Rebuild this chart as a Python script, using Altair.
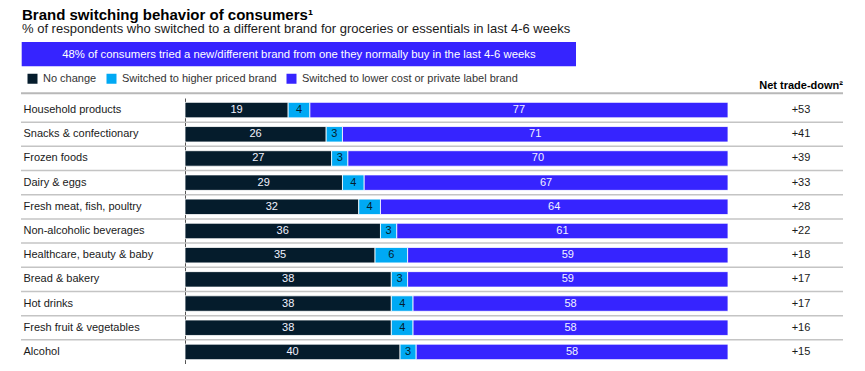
import altair as alt
import pandas as pd

FONT = "Liberation Sans, Arial, sans-serif"
NAVY = "#051C2C"
CYAN = "#00A9F4"
BLUE = "#3624FF"

title_text = "Brand switching behavior of consumers\u00b9"
subtitle_text = "% of respondents who switched to a different brand for groceries or essentials in last 4-6 weeks"
banner_text = "48% of consumers tried a new/different brand from one they normally buy in the last 4-6 weeks"
net_header = "Net trade-down\u00b2"

categories = [
    "Household products", "Snacks & confectionary", "Frozen foods", "Dairy & eggs",
    "Fresh meat, fish, poultry", "Non-alcoholic beverages", "Healthcare, beauty & baby",
    "Bread & bakery", "Hot drinks", "Fresh fruit & vegetables", "Alcohol",
]
segments = ["No change", "Switched to higher priced brand", "Switched to lower cost or private label brand"]
no_change = [19, 26, 27, 29, 32, 36, 35, 38, 38, 38, 40]
higher = [4, 3, 3, 4, 4, 3, 6, 3, 4, 4, 3]
lower = [77, 71, 70, 67, 64, 61, 59, 59, 58, 58, 58]
net = [53, 41, 39, 33, 28, 22, 18, 17, 17, 16, 15]

rows = []
for i, c in enumerate(categories):
    for k, (seg, vals) in enumerate(zip(segments, [no_change, higher, lower])):
        rows.append({"category": c, "segment": seg, "order": k, "value": vals[i]})
df = pd.DataFrame(rows)
net_df = pd.DataFrame({"category": categories, "net": net})
one = pd.DataFrame({"k": [0]})

xscale = alt.Scale(domain=[0, 1], nice=False, zero=True)
yscale = alt.Scale(paddingInner=0.36, paddingOuter=0.18)

base = alt.Chart(df).transform_stack(
    stack="value", groupby=["category"], as_=["x0", "x1"], offset="normalize",
    sort=[alt.SortField("order", order="ascending")],
)

y_axis = alt.Axis(
    domain=True, domainColor="#555555", domainWidth=1, ticks=False, grid=False,
    labelAlign="left", labelPadding=162, labelFontSize=11, labelFont=FONT,
    labelColor="#1a1a1a", labelLimit=200, title=None,
)

bars = base.mark_bar(stroke="white", strokeWidth=0.8).encode(
    x=alt.X("x0:Q", scale=xscale, axis=None),
    x2="x1:Q",
    y=alt.Y("category:N", sort=categories, scale=yscale, axis=y_axis),
    color=alt.Color(
        "segment:N",
        scale=alt.Scale(domain=segments, range=[NAVY, CYAN, BLUE]),
        legend=alt.Legend(
            orient="none", legendX=-158, legendY=-25, direction="horizontal", title=None,
            symbolType="square", symbolSize=100, symbolStrokeWidth=0, symbolOpacity=1,
            labelFontSize=11, labelFont=FONT, labelColor="#333333", labelOffset=5,
            labelLimit=400, columnPadding=9, padding=0,
        ),
    ),
)

seg_labels = base.transform_calculate(
    mid="(datum.x0 + datum.x1) / 2",
    tc="datum.segment == 'Switched to higher priced brand' ? '#051C2C' : '#F2F2FF'",
).mark_text(fontSize=11, font=FONT).encode(
    x=alt.X("mid:Q", scale=xscale, axis=None),
    y=alt.Y("category:N", sort=categories),
    text="value:Q",
    fill=alt.Fill("tc:N", scale=None),
)

net_labels = alt.Chart(net_df).transform_calculate(
    label="'+' + datum.net"
).mark_text(fontSize=11, font=FONT, color="#1a1a1a").encode(
    x=alt.value(616),
    y=alt.Y("category:N", sort=categories),
    text="label:N",
)

separators = alt.Chart(pd.DataFrame({"category": categories[1:]})).mark_rule(
    color="#c4c4c4", strokeWidth=1.5, yOffset=-12.09
).encode(
    y=alt.Y("category:N", sort=categories),
    x=alt.value(-164), x2=alt.value(658),
)

header_rule = alt.Chart(one).mark_rule(color="#b8b8b8", strokeWidth=2).encode(
    x=alt.value(-164), x2=alt.value(658), y=alt.value(-4.7)
)

title = alt.Chart(pd.DataFrame({"t": [title_text]})).mark_text(
    align="left", baseline="alphabetic", fontSize=15, fontWeight="bold", font=FONT, color="#000000"
).encode(x=alt.value(-163), y=alt.value(-78.3), text="t:N")

subtitle = alt.Chart(pd.DataFrame({"t": [subtitle_text]})).mark_text(
    align="left", baseline="alphabetic", fontSize=13, font=FONT, color="#1a1a1a"
).encode(x=alt.value(-163), y=alt.value(-65.5), text="t:N")

banner = alt.Chart(one).mark_rect(color=BLUE).encode(
    x=alt.value(-163.3), x2=alt.value(391), y=alt.value(-56), y2=alt.value(-31.7)
)

banner_label = alt.Chart(pd.DataFrame({"t": [banner_text]})).mark_text(
    align="center", baseline="alphabetic", fontSize=11.3, font=FONT, color="#ffffff"
).encode(x=alt.value(113.9), y=alt.value(-40), text="t:N")

net_head = alt.Chart(pd.DataFrame({"t": [net_header]})).mark_text(
    align="right", baseline="alphabetic", fontSize=11, fontWeight="bold", font=FONT, color="#000000"
).encode(x=alt.value(658), y=alt.value(-9), text="t:N")

chart = alt.layer(
    separators, header_rule, bars, seg_labels, net_labels,
    title, subtitle, banner, banner_label, net_head,
).properties(
    width=543, height=266,
    autosize=alt.AutoSizeParams(type="none"),
    padding={"left": 177, "top": 90, "right": 128, "bottom": 0},
).configure_view(stroke=None)

chart.save("out.html", embed_options={"renderer": "svg", "actions": False})
